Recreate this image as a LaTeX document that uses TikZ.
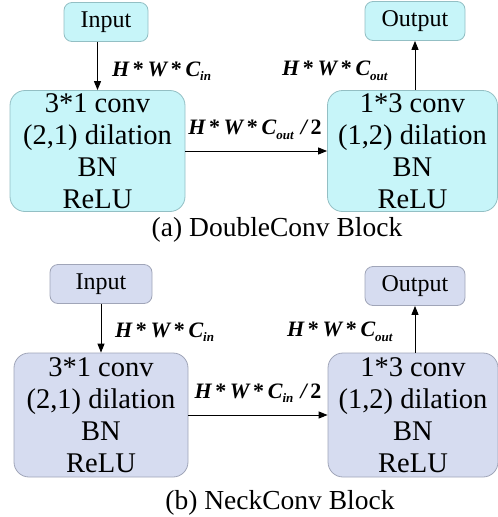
\documentclass[tikz,border=0pt]{standalone}
\usepackage{fontspec}
\setmainfont{Liberation Serif}
\newfontfamily\tms{Liberation Serif}
\usetikzlibrary{arrows.meta}
\definecolor{cyfill}{HTML}{C7F5F9}
\definecolor{cydraw}{HTML}{93BFC4}
\definecolor{lvfill}{HTML}{D6DCF0}
\definecolor{lvdraw}{HTML}{A0A5B8}
\newcommand{\dimlab}[2]{{\bfseries\itshape #1\,\upshape*\,\itshape W\,\upshape*\,\itshape C\raisebox{-0.45ex}{\fontsize{13}{13}\selectfont #2}}}
\begin{document}
\begin{tikzpicture}[x=1pt,y=-1pt,
  smallbox/.style={draw, line width=0.8pt, rounded corners=8pt, inner sep=0pt,
    minimum height=39pt, font=\tms\fontsize{24}{26}\selectfont},
  bigbox/.style={draw, line width=0.8pt, rounded corners=15pt, inner sep=0pt,
    minimum height=121pt, align=center, font=\tms\fontsize{28.5}{32}\selectfont},
  topc/.style={fill=cyfill, draw=cydraw},
  botc/.style={fill=lvfill, draw=lvdraw},
  arr/.style={-{Triangle[length=9pt,width=7pt]}, line width=1pt, black},
  lab/.style={inner sep=0pt, font=\tms\fontsize{22}{24}\selectfont},
  captxt/.style={inner sep=0pt, font=\tms\fontsize{27.5}{30}\selectfont}]
\useasboundingbox (0,0) rectangle (498,517);
% ---- (a)
\node[smallbox, topc, minimum width=84pt] (inA) at (106,22) {Input\hspace{17pt}};
\node[smallbox, topc, minimum width=100pt] (outA) at (415,21) {Output};
\node[bigbox, topc, minimum width=175pt] (lA) at (97.5,151) {3*1 conv\\(2,1) dilation\\BN\\ReLU};
\node[bigbox, topc, minimum width=170pt] (rA) at (412.5,151) {1*3 conv\\(1,2) dilation\\BN\\ReLU};
\draw[arr] (lA.north |- inA.south) -- (lA.north);
\draw[arr] (outA.south |- rA.north) -- (outA.south);
\draw[arr] (lA.east) -- (rA.west);
\node[lab, anchor=west] (l1A) at (112,71) {\dimlab{H}{in}};
\node[lab, anchor=west] (l2A) at (282,71) {\dimlab{H}{out}};
\node[lab] (l3A) at (255,130) {\dimlab{H}{out}\,\,{\bfseries\itshape /\,}{\bfseries 2}};
\node[captxt] (capA) at (277,230) {(a) DoubleConv Block};
% ---- (b)
\node[smallbox, botc, minimum width=102pt] (inB) at (101,284) {Input};
\node[smallbox, botc, minimum width=100pt] (outB) at (415,286) {Output};
\node[bigbox, botc, minimum width=174pt, minimum height=124pt] (lB) at (101,415) {3*1 conv\\(2,1) dilation\\BN\\ReLU};
\node[bigbox, botc, minimum width=170pt, minimum height=124pt] (rB) at (413,415) {1*3 conv\\(1,2) dilation\\BN\\ReLU};
\draw[arr] (lB.north |- inB.south) -- (lB.north);
\draw[arr] (outB.south |- rB.north) -- (outB.south);
\draw[arr] (lB.east) -- (rB.west);
\node[lab, anchor=west] (l1B) at (115,332) {\dimlab{H}{in}};
\node[lab, anchor=west] (l2B) at (287,332) {\dimlab{H}{out}};
\node[lab] (l3B) at (258,393) {\dimlab{H}{in}\,\,{\bfseries\itshape /\,}{\bfseries 2}};
\node[captxt] (capB) at (280,503) {(b) NeckConv Block};
\end{tikzpicture}
\end{document}
